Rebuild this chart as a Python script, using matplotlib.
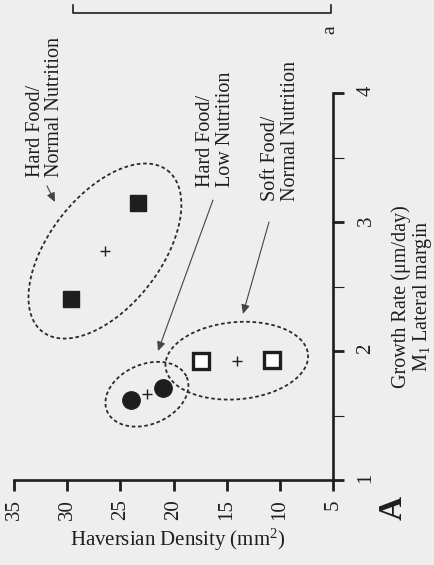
import numpy as np
import matplotlib.pyplot as plt
from matplotlib.lines import Line2D

plt.rcParams['font.family'] = 'Liberation Serif'
plt.rcParams['mathtext.fontset'] = 'custom'
plt.rcParams['mathtext.rm'] = 'Liberation Serif'
plt.rcParams['mathtext.it'] = 'Liberation Serif:italic'

# growth rate (um/day) vs haversian density (mm^2), one pair per group member
hard_normal_growth = [2.40, 3.15]
hard_normal_density = [29.6, 23.3]
hard_low_growth = [1.62, 1.71]
hard_low_density = [24.0, 21.0]
soft_normal_growth = [1.92, 1.93]
soft_normal_density = [17.4, 10.7]

density_ticks = [35, 30, 25, 20, 15, 10, 5]
growth_ticks = [1, 2, 3, 4]
growth_minor = [1.5, 2.5, 3.5]

# half axes of the dashed ellipses, in data units (density, growth)
hard_normal_axes = [(-5.88, 0.625), (-4.14, -0.264)]
hard_low_axes = [(-3.74, 0.133), (-1.12, -0.213)]
soft_normal_axes = [(-6.70, 0.048), (-0.32, -0.298)]

ink = '#1e1e1e'
paper = '#eeeeee'


def group_ellipse(ax, dens, grow, half_axes):
    cx, cy = np.mean(dens), np.mean(grow)
    t = np.linspace(0, 2 * np.pi, 300)
    (ux, uy), (vx, vy) = half_axes
    ax.plot(cx + ux * np.cos(t) + vx * np.sin(t),
            cy + uy * np.cos(t) + vy * np.sin(t),
            ls=(0, (2.0, 1.5)), lw=1.3, color='#2a2a2a')
    ax.plot(cx, cy, '+', ms=7, mew=1.0, color=ink)


fig = plt.figure(figsize=(4.34, 5.65), dpi=100, facecolor=paper)
ax = fig.add_axes([0.0323, 0.1504, 0.735, 0.685])
ax.patch.set_visible(False)

# page is turned: density runs right-to-left along the bottom, growth up the right side
ax.plot(hard_normal_density, hard_normal_growth, 's', ms=11, color=ink, ls='none')
ax.plot(soft_normal_density, soft_normal_growth, 's', ms=11, mfc='white',
        mec=ink, mew=2.4, ls='none')
ax.plot(hard_low_density, hard_low_growth, 'o', ms=12.5, color=ink, ls='none')

group_ellipse(ax, hard_normal_density, hard_normal_growth, hard_normal_axes)
group_ellipse(ax, hard_low_density, hard_low_growth, hard_low_axes)
group_ellipse(ax, soft_normal_density, soft_normal_growth, soft_normal_axes)

ax.set_xlim(35, 5)
ax.set_ylim(1, 4)
for s in ['top', 'left']:
    ax.spines[s].set_visible(False)
for s in ['bottom', 'right']:
    ax.spines[s].set_linewidth(1.9)
    ax.spines[s].set_color(ink)

ax.yaxis.tick_right()
ax.set_xticks(density_ticks)
ax.set_xticklabels([str(v) for v in density_ticks])
ax.set_yticks(growth_ticks)
ax.set_yticklabels([str(v) for v in growth_ticks])
ax.set_yticks(growth_minor, minor=True)
ax.tick_params(axis='x', direction='out', length=8, width=2.0, color=ink,
               labelsize=15, labelrotation=90, pad=6, labelcolor=ink)
ax.tick_params(axis='y', which='major', direction='out', length=8, width=2.0,
               color=ink, labelsize=15, labelrotation=90, pad=9, labelcolor=ink)
ax.tick_params(axis='y', which='minor', direction='out', length=8, width=0.8,
               color=ink)

ax.set_xlabel('Haversian Density (mm$^2$)', fontsize=15, color=ink,
              va='center', ha='center')
ax.xaxis.set_label_coords(0.514, -0.155)

ax.yaxis.set_label_position('right')
ax.set_ylabel('Growth Rate (\u03bcm/day)\nM$_1$ Lateral margin', fontsize=14.5,
              color=ink, rotation=90, rotation_mode='anchor',
              ha='center', va='center', multialignment='center', linespacing=1.0)
ax.yaxis.set_label_coords(1.251, 0.475)

# group labels with arrows
labels = [
    ('Hard Food/\nNormal Nutrition', (32.1, 3.35), (31.9, 3.28), (31.15, 3.155)),
    ('Hard Food/\nLow Nutrition', (16.05, 3.27), (16.29, 3.17), (21.46, 2.0)),
    ('Soft Food/\nNormal Nutrition', (9.94, 3.16), (11.02, 3.0), (13.47, 2.287)),
]
for txt, tpos, start, tip in labels:
    ax.text(tpos[0], tpos[1], txt, rotation=90, ha='center', va='bottom',
            multialignment='left', fontsize=14.5, color=ink, linespacing=1.05)
    ax.annotate('', xy=tip, xytext=start,
                arrowprops=dict(arrowstyle='-|>,head_length=0.55,head_width=0.25',
                                lw=0.8, color='#444444', shrinkA=0, shrinkB=0))

fig.text(393 / 434, 1 - 508 / 565, 'A', rotation=90, fontsize=24,
         fontweight='bold', ha='center', va='center', color=ink)
fig.text(330 / 434, 1 - 30 / 565, 'a', rotation=90, fontsize=14,
         ha='center', va='center', color=ink)

# scale bar left over from the panel above
bar_y = 1 - 12.5 / 565
tick_y = 1 - 5 / 565
x0, x1 = 73 / 434, 331 / 434
fig.add_artist(Line2D([x0, x0, x1, x1], [tick_y, bar_y, bar_y, tick_y],
                      transform=fig.transFigure, lw=1.2, color=ink))

fig.savefig('out.png', dpi=100, facecolor=paper)
